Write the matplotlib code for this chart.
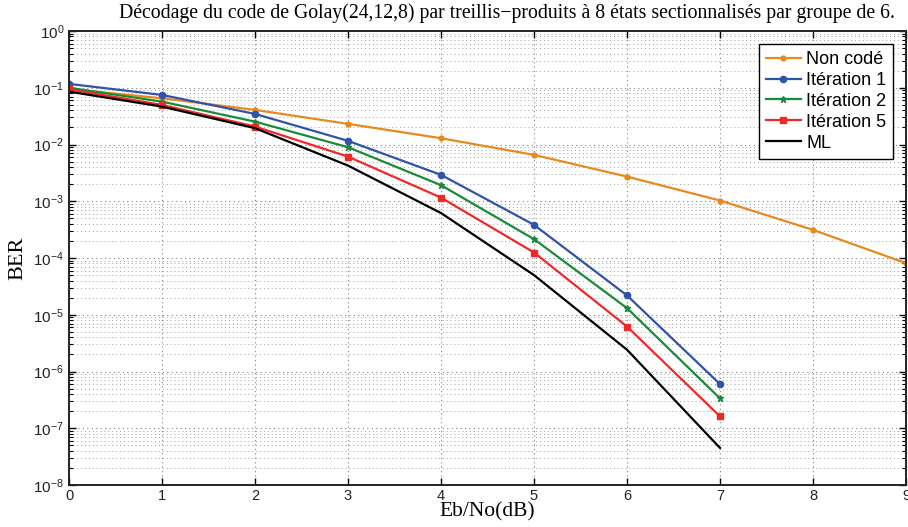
import numpy as np
import matplotlib
matplotlib.use("Agg")
import matplotlib.pyplot as plt
from matplotlib.ticker import LogLocator, NullFormatter, FixedLocator

ebno = [0, 1, 2, 3, 4, 5, 6, 7, 8, 9]
ebno_coded = [0, 1, 2, 3, 4, 5, 6, 7]
non_code = [0.095, 0.0653, 0.0407, 0.0231, 0.0129, 6.56e-3, 2.72e-3, 1.03e-3, 3.13e-4, 8.1e-5]
iter1 = [0.117, 0.0747, 0.0346, 0.0116, 2.92e-3, 3.84e-4, 2.19e-5, 6.0e-7]
iter2 = [0.100, 0.0569, 0.0253, 8.96e-3, 1.92e-3, 2.15e-4, 1.31e-5, 3.36e-7]
iter5 = [0.094, 0.0498, 0.0207, 6.12e-3, 1.16e-3, 1.25e-4, 6.2e-6, 1.62e-7]
ml = [0.0855, 0.0465, 0.0194, 4.25e-3, 6.2e-4, 5.0e-5, 2.42e-6, 4.5e-8]
labels = ["Non codé", "Itération 1", "Itération 2", "Itération 5", "ML"]
title = "Décodage du code de Golay(24,12,8) par treillis\u2212produits à 8 états sectionnalisés par groupe de 6."

W, H = 908, 527
fig = plt.figure(figsize=(W / 100, H / 100), dpi=100)
ax = fig.add_axes([69 / W, 1 - 485 / H, (906 - 69) / W, (485 - 31) / H])

lw = 1.6
ax.semilogy(ebno, non_code, color="#E8891E", lw=lw, marker=".", ms=7, label=labels[0])
ax.semilogy(ebno_coded, iter1, color="#2F52AA", lw=lw, marker="o", ms=4.5, label=labels[1])
ax.semilogy(ebno_coded, iter2, color="#1A8A3A", lw=lw, marker="*", ms=5, label=labels[2])
ax.semilogy(ebno_coded, iter5, color="#F02828", lw=lw, marker="s", ms=4, label=labels[3])
ax.semilogy(ebno_coded, ml, color="black", lw=lw, label=labels[4])

ax.set_xlim(0, 9)
ax.set_ylim(1e-8, 1)
ax.xaxis.set_major_locator(FixedLocator(range(0, 10)))
ax.yaxis.set_major_locator(LogLocator(base=10, numticks=20))
ax.yaxis.set_minor_locator(LogLocator(base=10, subs=np.arange(2, 10), numticks=20))
ax.yaxis.set_minor_formatter(NullFormatter())

ax.grid(True, which="major", linestyle=(0, (1, 3)), color="#808080", linewidth=0.8)
ax.grid(True, which="minor", axis="y", linestyle=(0, (1, 3)), color="#a0a0a0", linewidth=0.7)

ax.tick_params(which="both", direction="in", top=True, right=True, labelsize=11,
               colors="black", labelcolor="#222222")
ax.tick_params(which="major", length=5, width=1.0)
ax.tick_params(which="minor", length=3, width=0.8)
ax.tick_params(axis="x", pad=3, labelsize=10.5)
for s in ax.spines.values():
    s.set_linewidth(1.4)
    s.set_color("#222222")

for t in ax.get_xticklabels() + ax.get_yticklabels():
    t.set_fontfamily("Liberation Sans")

ax.set_xlabel("Eb/No(dB)", fontfamily="Liberation Serif", fontsize=15.5, labelpad=-1)
ax.set_ylabel("BER", fontfamily="Liberation Serif", fontsize=16, labelpad=4)

fig.text(507 / W, 1 - 13 / H, title, ha="center", va="center",
         fontfamily="Liberation Serif", fontsize=14.2)

leg = ax.legend(loc="upper right", prop={"family": "Liberation Sans", "size": 13},
                frameon=True, fancybox=False, edgecolor="black", framealpha=1,
                labelspacing=0.22, handlelength=1.9, handletextpad=0.3,
                borderaxespad=0.7, borderpad=0.4)
leg.get_frame().set_linewidth(1.0)

fig.savefig("out.png", dpi=100)
